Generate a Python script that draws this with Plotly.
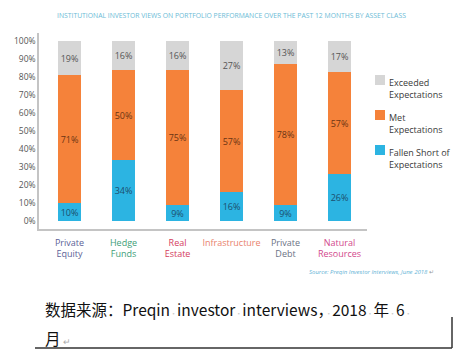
import plotly.graph_objects as go

W, H = 468, 357
OFF = 8  # page body margin offset

categories = ["Private Equity", "Hedge Funds", "Real Estate", "Infrastructure", "Private Debt", "Natural Resources"]
cat_labels = ["Private<br>Equity", "Hedge<br>Funds", "Real<br>Estate", "Infrastructure", "Private<br>Debt", "Natural<br>Resources"]
cat_colors = ["#5b5f98", "#3e9e78", "#d43d5e", "#e9826c", "#6b7285", "#d2488c"]
fallen = [10, 34, 9, 16, 9, 26]
met = [71, 50, 75, 57, 78, 57]
exceeded = [19, 16, 16, 27, 13, 17]
series_names = ["Fallen Short of<br>Expectations", "Met<br>Expectations", "Exceeded<br>Expectations"]
series_colors = ["#2cb4e2", "#f5823a", "#d6d6d6"]
text_colors = ["#1d4f6e", "#6a3414", "#555555"]
y_ticks = [0, 10, 20, 30, 40, 50, 60, 70, 80, 90, 100]
y_ticktext = [f"{v}%" for v in y_ticks]

def px(x):
    return (x - OFF) / W

def py(y):
    return 1 - (y - OFF) / H

fig = go.Figure()
for name, vals, col, tcol in zip(series_names, [fallen, met, exceeded], series_colors, text_colors):
    fig.add_trace(go.Bar(
        x=categories, y=vals, name=name, marker=dict(color=col, line=dict(width=0)),
        width=0.43, text=[f"{v}%" for v in vals], textposition="inside", textangle=0,
        insidetextanchor="middle", textfont=dict(size=9, color=tcol,
        family="Liberation Sans Narrow, Open Sans, sans-serif"),
        showlegend=False, hoverinfo="skip"))

ticktext = [f"<span style='color:{c}'>{t}</span>" for t, c in zip(cat_labels, cat_colors)]

fig.update_layout(
    width=W, height=H, barmode="stack", bargap=0,
    margin=dict(l=0, r=0, t=0, b=0),
    paper_bgcolor="white", plot_bgcolor="white",
    uniformtext=dict(minsize=9, mode="show"),
    font=dict(family="Liberation Sans Narrow, Open Sans, sans-serif"),
    xaxis=dict(domain=[px(39), px(367)], range=[-0.565, 5.509], showline=True,
               linecolor="#c4c4c4", linewidth=1.5, showgrid=False, ticks="",
               tickvals=categories, ticktext=ticktext, tickfont=dict(size=9),
               ticklabelstandoff=4),
    yaxis=dict(domain=[py(229), py(33)], range=[-4.44, 104.4], showline=True,
               linecolor="#c4c4c4", linewidth=1.5, showgrid=False, zeroline=False,
               tickvals=y_ticks, ticktext=y_ticktext, ticks="",
               tickfont=dict(size=8.5, color="#555555")),
)

# title
fig.add_annotation(x=px(231), y=py(15), xref="paper", yref="paper", showarrow=False,
                   text="INSTITUTIONAL INVESTOR VIEWS ON PORTFOLIO PERFORMANCE OVER THE PAST 12 MONTHS BY ASSET CLASS",
                   font=dict(size=6.8, color="#6bbbd6"), xanchor="center", yanchor="middle")

# legend
legend_items = [("Exceeded<br>Expectations", series_colors[2], 80),
                ("Met<br>Expectations", series_colors[1], 115),
                ("Fallen Short of<br>Expectations", series_colors[0], 150)]
for txt, col, yc in legend_items:
    fig.add_shape(type="rect", xref="paper", yref="paper", x0=px(375), x1=px(385),
                  y0=py(yc + 5), y1=py(yc - 5), fillcolor=col, line=dict(width=0))
    fig.add_annotation(x=px(387), y=py(yc - 6), xref="paper", yref="paper", showarrow=False,
                       text=txt, align="left", xanchor="left", yanchor="top",
                       font=dict(size=9, color="#3a3a3a"))

# source
fig.add_annotation(x=px(436), y=py(272), xref="paper", yref="paper", showarrow=False,
                   text="<i>Source: Preqin Investor Interviews, June 2018</i> <span style='color:#999'>↵</span>",
                   xanchor="right", yanchor="middle", font=dict(size=6, color="#5fb3d6"))

dot = "<span style='color:#c8c8c8;font-size:7px'>·</span>"
line1 = f"数据来源：Preqin{dot}investor{dot}interviews，{dot}2018{dot}年{dot}6{dot}"
line2 = "月<span style='color:#aaaaaa;font-size:9px'> ↵</span>"
cjk = "Noto Sans CJK SC, sans-serif"
fig.add_annotation(x=px(43), y=py(309), xref="paper", yref="paper", showarrow=False,
                   text=line1, xanchor="left", yanchor="middle",
                   font=dict(size=15.5, color="#111111", family=cjk))
fig.add_annotation(x=px(43), y=py(338), xref="paper", yref="paper", showarrow=False,
                   text=line2, xanchor="left", yanchor="middle",
                   font=dict(size=15.5, color="#111111", family=cjk))

# document border lines
fig.add_shape(type="line", xref="paper", yref="paper", x0=px(35), x1=px(452),
              y0=py(348), y1=py(348), line=dict(color="#333333", width=1.5))
fig.add_shape(type="line", xref="paper", yref="paper", x0=px(452), x1=px(452),
              y0=py(317), y1=py(348), line=dict(color="#333333", width=1.5))

fig.write_html("out.html")
